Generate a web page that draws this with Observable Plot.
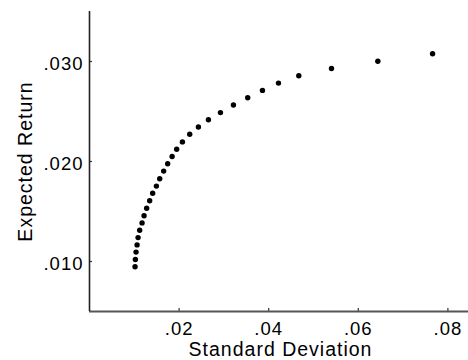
<!DOCTYPE html>
<html>
<head>
<meta charset="utf-8">
<script src="https://cdn.jsdelivr.net/npm/d3@7"></script>
<script src="https://cdn.jsdelivr.net/npm/@observablehq/plot@0.6"></script>
<style>
  html, body { margin: 0; padding: 0; background: #fff; }
  #chart { width: 468px; height: 360px; }
  #chart svg text { letter-spacing: 1px; }
</style>
</head>
<body>
<div id="chart"></div>
<script>
// Standard deviation (x) and expected return (y) of the frontier points
const stdDev = [0.01017, 0.01024, 0.01039, 0.01062, 0.01084, 0.01120, 0.01173, 0.01218, 0.01276, 0.01343,
                0.01410, 0.01493, 0.01567, 0.01656, 0.01745, 0.01844, 0.01946, 0.02074, 0.02237, 0.02431,
                0.02654, 0.02923, 0.03213, 0.03532, 0.03861, 0.04218, 0.04672, 0.05402, 0.06436, 0.07658];
const expReturn = [0.00947, 0.01020, 0.01094, 0.01166, 0.01239, 0.01313, 0.01386, 0.01458, 0.01532, 0.01608,
                   0.01682, 0.01754, 0.01827, 0.01904, 0.01977, 0.02050, 0.02123, 0.02196, 0.02273, 0.02345,
                   0.02417, 0.02489, 0.02565, 0.02638, 0.02711, 0.02784, 0.02857, 0.02930, 0.03003, 0.03077];
const xTicks = [0.02, 0.04, 0.06, 0.08];
const yTicks = [0.010, 0.020, 0.030];
const xDomain = [0, 0.0846];
const yDomain = [0.005, 0.035];
const xLabel = "Standard Deviation";
const yLabel = "Expected Return";

const points = stdDev.map((s, i) => ({sd: s, ret: expReturn[i]}));
const fmtX = d => d3.format(".2f")(d).replace(/^0/, "");
const fmtY = d => d3.format(".3f")(d).replace(/^0/, "");

const chart = Plot.plot({
  width: 468,
  height: 360,
  marginLeft: 89,
  marginRight: 0,
  marginTop: 11,
  marginBottom: 49,
  style: {fontFamily: "'Liberation Sans', Arial, Helvetica, sans-serif", fontSize: "18.5px", color: "#000", background: "#fff"},
  x: {domain: xDomain},
  y: {domain: yDomain},
  marks: [
    Plot.axisX(xTicks, {tickSize: 0, tickPadding: 10, tickFormat: fmtX, label: null, fontSize: 18.5, fill: "#000"}),
    Plot.axisY(yTicks, {tickSize: 0, tickPadding: 6, dy: 2.5, tickFormat: fmtY, label: null, fontSize: 18.5, fill: "#000"}),
    Plot.tickX(xTicks, {x: d => d, insetTop: 297, stroke: "#333", strokeWidth: 1.2}),
    Plot.tickY(yTicks, {y: d => d, insetRight: 376, stroke: "#333", strokeWidth: 1.2}),
    Plot.ruleY([yDomain[0]], {stroke: "#555", strokeWidth: 2}),
    Plot.ruleX([xDomain[0]], {stroke: "#222", strokeWidth: 1.6}),
    Plot.dot(points, {x: "sd", y: "ret", r: 2.7, fill: "#000", stroke: null}),
    Plot.text([xLabel], {frameAnchor: "bottom", dy: 44, dx: 1.5, lineAnchor: "bottom", textAnchor: "middle", fontSize: 19.5, fill: "#000"}),
    Plot.text([yLabel], {frameAnchor: "left", dx: -63.5, rotate: -90, lineAnchor: "middle", textAnchor: "middle", fontSize: 19.5, fill: "#000"})
  ]
});
document.getElementById("chart").appendChild(chart);
</script>
</body>
</html>
